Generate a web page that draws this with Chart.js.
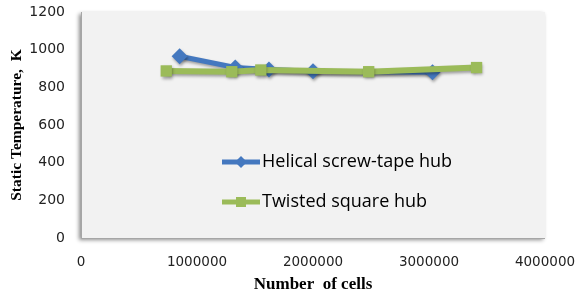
<!DOCTYPE html>
<html><head><meta charset="utf-8">
<script src="https://cdn.jsdelivr.net/npm/chart.js@4.4.1/dist/chart.umd.min.js"></script>
<style>html,body{margin:0;padding:0;background:#fff}#wrap{width:576px;height:300px}</style>
</head><body><div id="wrap"><canvas id="c" width="576" height="300"></canvas></div>
<script>
const seriesNames = ["Helical screw-tape hub", "Twisted square hub"];
const helicalCells = [850000, 1330000, 1620000, 2000000, 3030000];
const helicalTemp = [965, 905, 895, 885, 880];
const twistedCells = [735000, 1300000, 1550000, 2480000, 3410000];
const twistedTemp = [887, 883, 892, 883, 905];
const xTicks = [0, 1000000, 2000000, 3000000, 4000000];
const yTicks = [0, 200, 400, 600, 800, 1000, 1200];
const xTitle = "Number  of cells";
const yTitle = "Static Temperature,  K";

const BLUE = '#4478bf', GREEN = '#9bbb59';
const toPts = (xs, ys) => xs.map((x, i) => ({x, y: ys[i]}));

const bgPlugin = {
  id: 'bg',
  beforeDraw(chart) {
    const {ctx, chartArea: a} = chart;
    ctx.save();
    ctx.shadowColor = 'rgba(0,0,0,0.45)';
    ctx.shadowBlur = 4;
    ctx.shadowOffsetX = -2;
    ctx.shadowOffsetY = 2;
    ctx.fillStyle = '#f2f2f2';
    ctx.fillRect(a.left, a.top, a.right - a.left, a.bottom - a.top);
    ctx.restore();
    ctx.save();
    ctx.strokeStyle = '#a6a6a6';
    ctx.lineWidth = 1;
    ctx.beginPath();
    ctx.moveTo(a.left + 0.5, a.top);
    ctx.lineTo(a.left + 0.5, a.bottom + 0.5);
    ctx.lineTo(a.right, a.bottom + 0.5);
    ctx.stroke();
    ctx.restore();
  },
  beforeDatasetsDraw(chart) {
    const ctx = chart.ctx;
    ctx.save();
    ctx.shadowColor = 'rgba(0,0,0,0.35)';
    ctx.shadowBlur = 3;
    ctx.shadowOffsetX = 1;
    ctx.shadowOffsetY = 2;
  },
  afterDatasetsDraw(chart) { chart.ctx.restore(); },
  afterDraw(chart) {
    const ctx = chart.ctx;
    const items = [
      {name: seriesNames[0], color: BLUE, shape: 'diamond', y: 162},
      {name: seriesNames[1], color: GREEN, shape: 'square', y: 202}
    ];
    ctx.save();
    items.forEach(it => {
      ctx.strokeStyle = it.color; ctx.lineWidth = 5; ctx.lineCap = 'butt';
      ctx.beginPath(); ctx.moveTo(222, it.y); ctx.lineTo(260, it.y); ctx.stroke();
      ctx.fillStyle = it.color;
      ctx.beginPath();
      if (it.shape === 'diamond') {
        ctx.moveTo(241, it.y - 6); ctx.lineTo(247, it.y); ctx.lineTo(241, it.y + 6); ctx.lineTo(235, it.y);
      } else {
        ctx.rect(236, it.y - 5, 10, 10);
      }
      ctx.closePath(); ctx.fill();
      ctx.fillStyle = '#000';
      ctx.font = '18px "Open Sans"';
      ctx.textBaseline = 'middle';
      ctx.textAlign = 'left';
      ctx.fillText(it.name, 262, it.y);
    });
    ctx.restore();
  }
};

new Chart(document.getElementById('c'), {
  type: 'line',
  data: {
    datasets: [
      {label: seriesNames[0], data: toPts(helicalCells, helicalTemp), borderColor: BLUE, backgroundColor: BLUE,
       borderWidth: 5, pointStyle: 'rectRot', pointRadius: 8, pointHoverRadius: 8, pointBorderWidth: 0, order: 1, tension: 0},
      {label: seriesNames[1], data: toPts(twistedCells, twistedTemp), borderColor: GREEN, backgroundColor: GREEN,
       borderWidth: 6, pointStyle: 'rect', pointRadius: 8, pointHoverRadius: 8, pointBorderWidth: 0, order: 0, tension: 0}
    ]
  },
  options: {
    responsive: false, animation: false, devicePixelRatio: 1,
    layout: {padding: {top: 12, right: 31, left: 0, bottom: 0}},
    plugins: {legend: {display: false}, tooltip: {enabled: false}},
    scales: {
      x: {
        type: 'linear', min: 0, max: 4000000,
        afterBuildTicks(s) { s.ticks = xTicks.map(v => ({value: v})); },
        afterFit(s) { s.height = 62; s.paddingLeft = 0; s.paddingRight = 0; },
        grid: {display: false, drawTicks: false},
        border: {display: false},
        ticks: {color: '#222', font: {family: 'DejaVu Sans', size: 13.5}, padding: 16, maxRotation: 0,
                callback: v => String(v)},
        title: {display: true, text: xTitle, color: '#000', font: {family: 'Liberation Serif', size: 17, weight: 'bold'}, padding: {top: 0, bottom: 5}}
      },
      y: {
        min: 0, max: 1200,
        afterBuildTicks(s) { s.ticks = yTicks.map(v => ({value: v})); },
        afterFit(s) { s.width = 81; s.paddingTop = 0; s.paddingBottom = 0; },
        grid: {display: false, drawTicks: false},
        border: {display: false},
        ticks: {color: '#222', font: {family: 'DejaVu Sans', size: 14}, padding: 16, callback: v => String(v)},
        title: {display: true, text: yTitle, color: '#000', font: {family: 'Liberation Serif', size: 15.5, weight: 'bold'}, padding: {top: 8, bottom: 0}}
      }
    }
  },
  plugins: [bgPlugin]
});
</script></body></html>
